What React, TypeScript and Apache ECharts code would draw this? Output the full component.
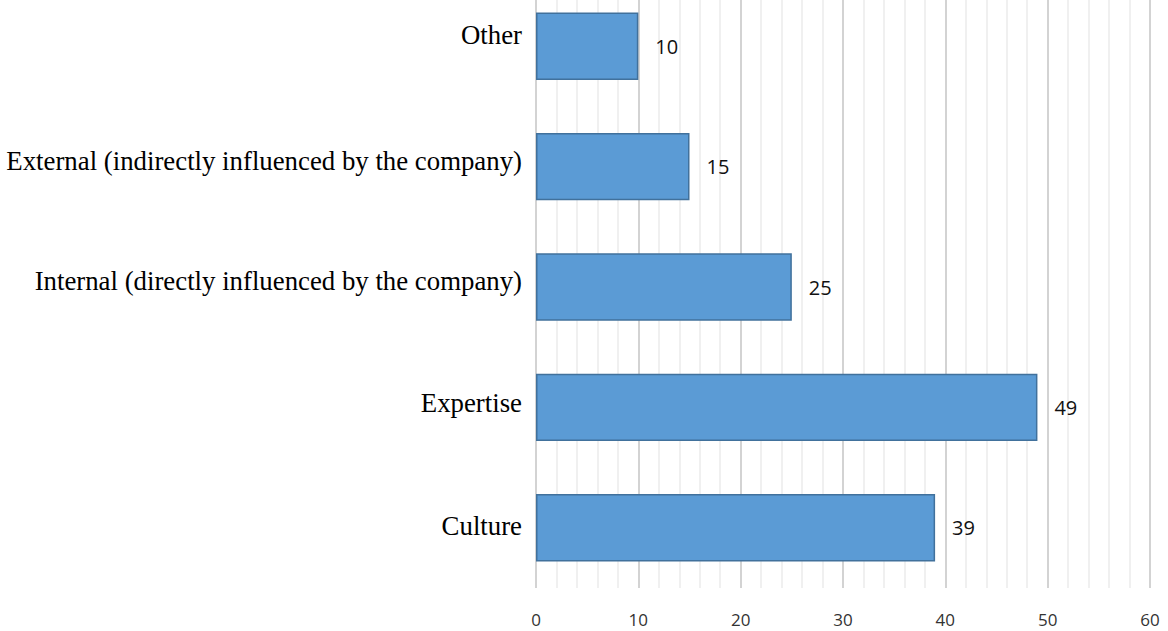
import React, { useEffect, useRef } from "react";
import * as echarts from "echarts";

const categories = [
  "Culture",
  "Expertise",
  "Internal (directly influenced by the company)",
  "External (indirectly influenced by the company)",
  "Other",
];
const values = [39, 49, 25, 15, 10];
// upward nudge of each category label (px)
const labelLift = [2, 4, 6, 6, 11];
const xMin = 0;
const xMax = 60;
const xInterval = 10;

export default function App() {
  const ref = useRef<HTMLDivElement>(null);
  useEffect(() => {
    document.body.style.margin = "0";
    const chart = echarts.init(ref.current!, null, { renderer: "svg" });
    const catFont = {
      fontFamily: "'Liberation Serif', 'Times New Roman', serif",
      fontSize: 26.8,
      color: "#000000",
    };
    const rich: Record<string, any> = {};
    labelLift.forEach((lift, i) => {
      rich["c" + i] = { ...catFont, padding: [0, 0, lift * 2, 0] };
    });
    chart.setOption({
      animation: false,
      backgroundColor: "#ffffff",
      grid: { left: 536, right: 18, top: 0, bottom: 43, containLabel: false },
      xAxis: {
        type: "value",
        min: xMin,
        max: xMax,
        interval: xInterval,
        axisLine: { show: false },
        axisTick: { show: false },
        axisLabel: {
          margin: 22.5,
          fontFamily: "'Open Sans', 'Liberation Sans', sans-serif",
          fontSize: 17,
          lineHeight: 17,
          color: "#333333",
        },
        splitLine: { show: true, lineStyle: { color: "#c4c4c4", width: 1.5 } },
        minorTick: { show: false, splitNumber: 5 },
        minorSplitLine: { show: true, lineStyle: { color: "#ebebeb", width: 1.5 } },
      },
      yAxis: {
        type: "category",
        data: categories,
        axisLine: { show: false },
        axisTick: { show: false },
        axisLabel: {
          margin: 14,
          ...catFont,
          formatter: (v: string, i: number) => `{c${i}|${v}}`,
          rich,
        },
      },
      series: [
        {
          type: "bar",
          data: values,
          barCategoryGap: "44%",
          itemStyle: { color: "#5b9bd5", borderColor: "#41719c", borderWidth: 1.5 },
          label: {
            show: true,
            position: "right",
            distance: 17,
            fontFamily: "'Open Sans', 'Liberation Sans', sans-serif",
            fontSize: 20,
            color: "#111111",
          },
        },
      ],
    });
    return () => chart.dispose();
  }, []);
  return (
    <div style={{ width: 1168, height: 631, overflow: "hidden", position: "relative" }}>
      <div ref={ref} style={{ width: 1168, height: 645, position: "absolute", top: -14, left: 0 }} />
    </div>
  );
}
